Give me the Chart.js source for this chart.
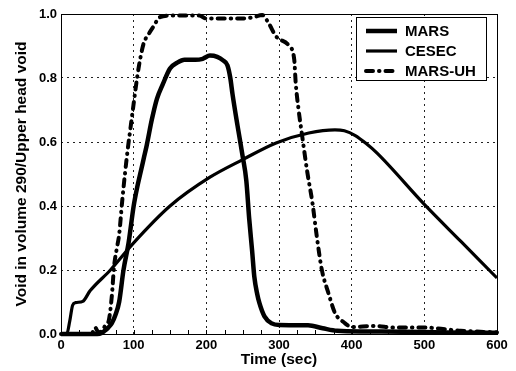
<!DOCTYPE html>
<html lang="en">
<head>
  <meta charset="UTF-8">
  <title>Void in volume 290 / Upper head void</title>
  <script src="https://cdn.jsdelivr.net/npm/chart.js"></script>
  <style>
    body {
      margin: 0;
      background: #ffffff;
    }

    #wrap {
      width: 516px;
      height: 371px;
    }
  </style>
</head>
<body>

  <div id="wrap"><canvas id="voidChart" width="516" height="371"></canvas></div>

  <script>
    // values: time (sec) / void fraction
    const marsTime = [0, 50, 56, 59, 65, 70, 75, 80, 86, 93, 100, 105, 110, 114, 118, 125, 132, 140, 150, 160, 170, 185, 195, 205, 215, 223, 229, 233, 236, 243, 250, 255, 259, 263, 266, 270, 273, 280, 290, 300, 340, 360, 380, 420, 470, 530, 600];
    const marsVoid = [0, 0, 0.003, 0.008, 0.02, 0.034, 0.06, 0.1, 0.2, 0.285, 0.40, 0.46, 0.51, 0.55, 0.59, 0.67, 0.735, 0.78, 0.83, 0.848, 0.857, 0.857, 0.86, 0.87, 0.866, 0.855, 0.84, 0.80, 0.75, 0.65, 0.555, 0.48, 0.36, 0.26, 0.18, 0.125, 0.097, 0.055, 0.033, 0.028, 0.027, 0.018, 0.01, 0.008, 0.007, 0.005, 0.004];

    const cesecTime = [0, 8, 12, 16, 20, 30, 40, 68, 100, 150, 205, 250, 296, 341, 377, 390, 405, 420, 435, 500, 550, 600];
    const cesecVoid = [0, 0, 0.04, 0.09, 0.098, 0.102, 0.135, 0.2, 0.285, 0.40, 0.49, 0.545, 0.597, 0.628, 0.638, 0.635, 0.62, 0.595, 0.565, 0.405, 0.29, 0.175];

    const marsUhTime = [0, 42, 47, 50, 53, 57, 62, 66, 70, 73, 77, 80, 84, 88, 92, 96, 100, 105, 109, 114, 120, 127, 136, 150, 190, 200, 250, 265, 277, 286, 296, 314, 321, 323, 327, 332, 339, 346, 352, 359, 368, 377, 390, 400, 430, 460, 500, 550, 600];
    const marsUhVoid = [0, 0, 0.02, 0.01, 0.005, 0.013, 0.03, 0.045, 0.12, 0.21, 0.27, 0.31, 0.41, 0.50, 0.58, 0.65, 0.72, 0.805, 0.86, 0.91, 0.935, 0.96, 0.99, 0.995, 0.995, 0.986, 0.986, 0.99, 0.997, 0.97, 0.93, 0.90, 0.857, 0.784, 0.70, 0.617, 0.505, 0.41, 0.305, 0.20, 0.128, 0.066, 0.035, 0.022, 0.025, 0.02, 0.02, 0.01, 0.005];

    const seriesNames = ['MARS', 'CESEC', 'MARS-UH'];
    const xTicks = [0, 100, 200, 300, 400, 500, 600];
    const yTicks = [0, 0.2, 0.4, 0.6, 0.8, 1.0];
    const xMinorStep = 25;

    function toPoints(ts, vs) {
      return ts.map((t, i) => ({ x: t, y: vs[i] }));
    }

    Chart.defaults.font.family = "'Liberation Sans', Arial, sans-serif";
    Chart.defaults.color = '#000';

    // box round the plot + little inward ticks on the time axis
    const frame = {
      id: 'frame',
      beforeDatasetsDraw(chart) {
        const { ctx, chartArea: a, scales } = chart;
        ctx.save();
        ctx.strokeStyle = '#000';
        ctx.lineWidth = 1;
        ctx.strokeRect(Math.round(a.left) + 0.5, Math.round(a.top) + 0.5,
          Math.round(a.right - a.left), Math.round(a.bottom - a.top));
        const x = scales.x;
        ctx.beginPath();
        for (let v = x.min; v <= x.max; v += xMinorStep) {
          const px = Math.round(x.getPixelForValue(v)) + 0.5;
          ctx.moveTo(px, a.bottom);
          ctx.lineTo(px, a.bottom - 4);
        }
        ctx.stroke();
        ctx.restore();
      }
    };

    // legend box in the upper right corner, like the original
    const boxLegend = {
      id: 'boxLegend',
      afterDatasetsDraw(chart) {
        const { ctx } = chart;
        const sets = chart.data.datasets;
        const bx = 356.5, by = 17.5, bw = 130, bh = 63;
        ctx.save();
        ctx.fillStyle = '#fff';
        ctx.fillRect(bx, by, bw, bh);
        ctx.strokeStyle = '#000';
        ctx.lineWidth = 1;
        ctx.strokeRect(bx, by, bw, bh);
        ctx.font = "bold 15px 'Liberation Sans', Arial, sans-serif";
        ctx.textBaseline = 'middle';
        ctx.fillStyle = '#000';
        sets.forEach((ds, i) => {
          const y = 31 + i * 20;
          ctx.beginPath();
          ctx.lineWidth = ds.borderWidth;
          ctx.lineCap = ds.borderCapStyle || 'butt';
          ctx.setLineDash(ds.borderDash || []);
          ctx.moveTo(366, y);
          ctx.lineTo(397, y);
          ctx.stroke();
          ctx.setLineDash([]);
          ctx.fillText(ds.label, 405, y + 0.5);
        });
        ctx.restore();
      }
    };

    new Chart(document.getElementById('voidChart'), {
      type: 'line',
      data: {
        datasets: [{
          label: seriesNames[0],
          data: toPoints(marsTime, marsVoid),
          borderColor: '#000',
          borderWidth: 4.5,
          cubicInterpolationMode: 'monotone'
        }, {
          label: seriesNames[1],
          data: toPoints(cesecTime, cesecVoid),
          borderColor: '#000',
          borderWidth: 3.2,
          cubicInterpolationMode: 'monotone'
        }, {
          label: seriesNames[2],
          data: toPoints(marsUhTime, marsUhVoid),
          borderColor: '#000',
          borderWidth: 4,
          borderDash: [7, 6, 0.5, 6],
          borderCapStyle: 'round',
          cubicInterpolationMode: 'monotone'
        }]
      },
      options: {
        responsive: false,
        animation: false,
        devicePixelRatio: 1,
        clip: 3,
        elements: { point: { radius: 0 } },
        layout: { padding: { top: 14, right: 19, left: 0, bottom: 0 } },
        plugins: {
          legend: { display: false },
          tooltip: { enabled: false }
        },
        scales: {
          x: {
            type: 'linear',
            min: 0,
            max: 600,
            afterBuildTicks: s => { s.ticks = xTicks.map(v => ({ value: v })); },
            afterFit: s => { s.height = 37; },
            grid: { color: '#222', lineWidth: 1, drawTicks: false },
            border: { display: false, dash: [2, 4] },
            ticks: { padding: 4, font: { size: 13, weight: 'bold' } },
            title: {
              display: true,
              text: 'Time (sec)',
              font: { size: 15.5, weight: 'bold' },
              padding: { top: 0, bottom: 2 }
            }
          },
          y: {
            min: 0,
            max: 1,
            afterBuildTicks: s => { s.ticks = yTicks.map(v => ({ value: v })); },
            afterFit: s => { s.width = 61; },
            grid: { color: '#222', lineWidth: 1, drawTicks: false },
            border: { display: false, dash: [2, 4] },
            ticks: {
              padding: 4,
              font: { size: 13, weight: 'bold' },
              callback: v => v.toFixed(1)
            },
            title: {
              display: true,
              text: 'Void in volume 290/Upper head void',
              font: { size: 15.5, weight: 'bold' },
              padding: { top: 12, bottom: 0 }
            }
          }
        }
      },
      plugins: [frame, boxLegend]
    });
  </script>

</body>
</html>
